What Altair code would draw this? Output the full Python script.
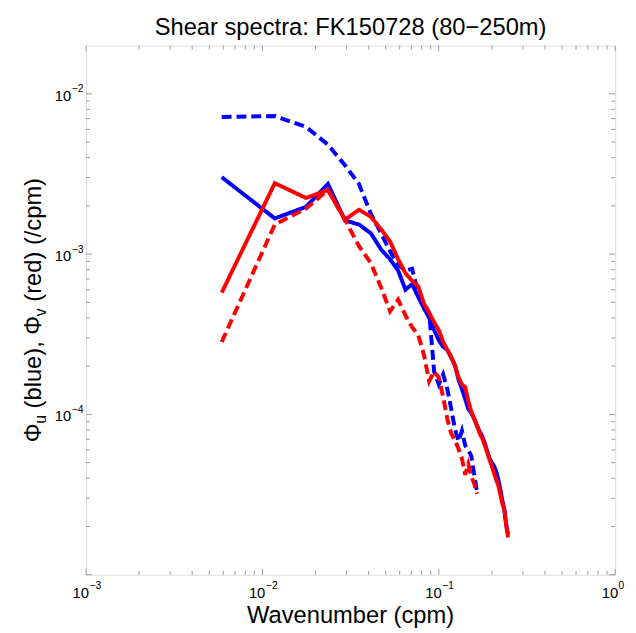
import altair as alt
import pandas as pd

# wavenumber (cpm)
k = [0.00588, 0.01176, 0.01765, 0.02353, 0.02941, 0.03529, 0.04118, 0.04706, 0.05294, 0.05882,
     0.06471, 0.07059, 0.07647, 0.08235, 0.08824, 0.09412, 0.1, 0.10588, 0.11176, 0.11765,
     0.12353, 0.12941, 0.13529, 0.14118, 0.14706, 0.15294, 0.15882, 0.16471, 0.17059, 0.17647,
     0.18235, 0.18824, 0.19412, 0.2, 0.20588, 0.21176, 0.21765, 0.22353, 0.22941, 0.23529,
     0.24118, 0.24706]

u_solid = [3.02e-3, 1.67e-3, 1.97e-3, 2.74e-3, 1.62e-3, 1.53e-3, 1.35e-3, 1.07e-3, 9.3e-4, 7.9e-4,
           6.0e-4, 6.5e-4, 5.4e-4, 4.6e-4, 4.0e-4, 3.36e-4, 2.91e-4, 2.64e-4, 2.53e-4, 2.26e-4,
           2.02e-4, 1.65e-4, 1.44e-4, 1.25e-4, 1.08e-4, 1.02e-4, 9.4e-5, 8.5e-5, 7.8e-5, 7.3e-5,
           6.6e-5, 5.9e-5, 5.3e-5, 5.0e-5, 4.75e-5, 4.4e-5, 3.9e-5, 3.4e-5, 2.9e-5, 2.55e-5,
           2.06e-5, 1.79e-5]

v_solid = [5.75e-4, 2.77e-3, 2.24e-3, 2.51e-3, 1.64e-3, 1.89e-3, 1.71e-3, 1.43e-3, 1.20e-3, 9.3e-4,
           7.6e-4, 6.8e-4, 6.3e-4, 4.9e-4, 4.3e-4, 3.76e-4, 3.36e-4, 2.83e-4, 2.53e-4, 2.29e-4,
           2.02e-4, 1.70e-4, 1.54e-4, 1.48e-4, 1.21e-4, 1.04e-4, 9.4e-5, 8.5e-5, 7.6e-5, 7.1e-5,
           6.4e-5, 5.8e-5, 5.2e-5, 4.75e-5, 4.3e-5, 3.9e-5, 3.6e-5, 3.15e-5, 2.77e-5, 2.55e-5,
           2.03e-5, 1.71e-5]

u_dashed = [7.17e-3, 7.27e-3, 6.22e-3, 4.82e-3, 3.58e-3, 2.74e-3, 1.79e-3, 1.35e-3, 1.04e-3, 8.6e-4,
            7.9e-4, 8.1e-4, 5.75e-4, 4.9e-4, 4.3e-4, 1.85e-4, 1.54e-4, 1.78e-4, 1.44e-4, 1.08e-4,
            8.1e-5, 6.8e-5, 7.9e-5, 6.4e-5, 6.0e-5, 5.5e-5, 4.2e-5, 3.3e-5]

v_dashed = [2.83e-4, 1.53e-3, 1.92e-3, 2.51e-3, 1.64e-3, 1.12e-3, 8.8e-4, 6.2e-4, 4.4e-4, 5.2e-4,
            4.15e-4, 3.5e-4, 3.13e-4, 2.36e-4, 1.61e-4, 1.85e-4, 1.70e-4, 1.28e-4, 9.4e-5, 7.6e-5,
            6.9e-5, 6.1e-5, 5.3e-5, 4.2e-5, 4.9e-5, 4.1e-5, 3.7e-5, 3.2e-5]

x_major = [0.001, 0.01, 0.1, 1]
x_exp = ["\u22123", "\u22122", "\u22121", "0"]
x_minor = [0.002, 0.003, 0.004, 0.005, 0.006, 0.007, 0.008, 0.009,
           0.02, 0.03, 0.04, 0.05, 0.06, 0.07, 0.08, 0.09,
           0.2, 0.3, 0.4, 0.5, 0.6, 0.7, 0.8, 0.9]
y_major = [1e-5, 1e-4, 1e-3, 1e-2]
y_labeled = [1e-4, 1e-3, 1e-2]
y_labeled_exp = ["\u22124", "\u22123", "\u22122"]
y_minor = [2e-5, 3e-5, 4e-5, 5e-5, 6e-5, 7e-5, 8e-5, 9e-5,
           2e-4, 3e-4, 4e-4, 5e-4, 6e-4, 7e-4, 8e-4, 9e-4,
           2e-3, 3e-3, 4e-3, 5e-3, 6e-3, 7e-3, 8e-3, 9e-3]

title_text = "Shear spectra: FK150728 (80\u2212250m)"
xtitle_text = "Wavenumber (cpm)"
# y title pieces: (text, is_subscript, leading gap px, advance px)
ytitle_pieces = [("\u03a6", False, 0.0, 18.7), ("u", True, 0.0, 8.9),
                 ("(blue), \u03a6", False, 6.7, 93.4), ("v", True, 0.0, 8.0),
                 ("(red) (/cpm)", False, 6.7, 125.3)]

FONT = "Liberation Sans, Arial, Helvetica, sans-serif"
W = 536
H = 536
TICK = "#9a9a9a"
BLUE = "#0000ff"
RED = "#ff0000"

series_order = ["u_dashed", "u_solid", "v_dashed", "v_solid"]
rows = []
for name, vals in zip(series_order, [u_dashed, u_solid, v_dashed, v_solid]):
    for kk, vv in zip(k, vals):
        rows.append({"k": kk, "phi": vv, "series": name})
df = pd.DataFrame(rows)

xscale = alt.Scale(type="log", domain=[0.001, 1], nice=False)
yscale = alt.Scale(type="log", domain=[1e-5, 0.02], nice=False)

lines = alt.Chart(df).mark_line(strokeWidth=4).encode(
    x=alt.X("k:Q", scale=xscale, axis=None),
    y=alt.Y("phi:Q", scale=yscale, axis=None),
    color=alt.Color("series:N", scale=alt.Scale(domain=series_order, range=[BLUE, BLUE, RED, RED]), legend=None),
    strokeDash=alt.StrokeDash("series:N", scale=alt.Scale(domain=series_order,
                              range=[[10, 5], [1, 0], [10, 5], [1, 0]]), legend=None),
)


def xticks(vals, length):
    d = pd.DataFrame({"v": vals})
    base = alt.Chart(d).mark_rule(color=TICK, strokeWidth=1)
    bottom = base.encode(x=alt.X("v:Q", scale=xscale, axis=None), y=alt.value(H), y2=alt.value(H - length))
    top = base.encode(x=alt.X("v:Q", scale=xscale, axis=None), y=alt.value(0), y2=alt.value(length))
    return [bottom, top]


def yticks(vals, length):
    d = pd.DataFrame({"v": vals})
    base = alt.Chart(d).mark_rule(color=TICK, strokeWidth=1)
    left = base.encode(y=alt.Y("v:Q", scale=yscale, axis=None), x=alt.value(0), x2=alt.value(length))
    right = base.encode(y=alt.Y("v:Q", scale=yscale, axis=None), x=alt.value(W), x2=alt.value(W - length))
    return [left, right]


ticks = xticks(x_major, 6) + xticks(x_minor, 4) + yticks(y_major, 6) + yticks(y_minor, 4)

xl = pd.DataFrame({"v": x_major, "e": x_exp})
x_lab10 = alt.Chart(xl).mark_text(align="right", baseline="alphabetic", dx=3, fontSize=15, font=FONT,
                                   color="black").encode(
    x=alt.X("v:Q", scale=xscale, axis=None), y=alt.value(H + 24), text=alt.value("10"))
x_labexp = alt.Chart(xl).mark_text(align="left", baseline="alphabetic", dx=3.5, fontSize=10.5, font=FONT,
                                    color="black").encode(
    x=alt.X("v:Q", scale=xscale, axis=None), y=alt.value(H + 14.5), text="e:N")

yl = pd.DataFrame({"v": y_labeled, "e": y_labeled_exp})
y_lab10 = alt.Chart(yl).mark_text(align="right", baseline="alphabetic", dy=7, fontSize=15, font=FONT,
                                   color="black").encode(
    y=alt.Y("v:Q", scale=yscale, axis=None), x=alt.value(-15), text=alt.value("10"))
y_labexp = alt.Chart(yl).mark_text(align="left", baseline="alphabetic", dy=-1.5, fontSize=10.5, font=FONT,
                                    color="black").encode(
    y=alt.Y("v:Q", scale=yscale, axis=None), x=alt.value(-14.5), text="e:N")

title = alt.Chart(pd.DataFrame({"t": [title_text]})).mark_text(
    align="center", baseline="alphabetic", fontSize=24, font=FONT, color="black").encode(
    x=alt.value(W / 2), y=alt.value(-10.6), text="t:N")
xtitle = alt.Chart(pd.DataFrame({"t": [xtitle_text]})).mark_text(
    align="center", baseline="alphabetic", fontSize=24, font=FONT, color="black").encode(
    x=alt.value(W / 2), y=alt.value(H + 49), text="t:N")

# y title assembled from pieces, reading bottom-to-top
total_len = sum(p[2] + p[3] for p in ytitle_pieces)
y_start = H / 2 + total_len / 2
base_x = -46
ytitle_layers = []
off = 0.0
for txt, sub, gap, ln in ytitle_pieces:
    off += gap
    ytitle_layers.append(
        alt.Chart(pd.DataFrame({"t": [txt]})).mark_text(
            align="left", baseline="alphabetic", angle=270, fontSize=16 if sub else 24,
            font=FONT, color="black").encode(
            x=alt.value(base_x + (5 if sub else 0)), y=alt.value(y_start - off), text="t:N"))
    off += ln

chart = alt.layer(*ticks, lines, x_lab10, x_labexp, y_lab10, y_labexp, title, xtitle,
                  *ytitle_layers).properties(
    width=W, height=H,
    autosize=alt.AutoSizeParams(type="none"),
    padding={"left": 79, "top": 34, "right": 13, "bottom": 55},
).configure_view(stroke="#8a8a8a", strokeWidth=1).configure(background="white")

chart.save("out.html", embed_options={"renderer": "svg", "actions": False})
